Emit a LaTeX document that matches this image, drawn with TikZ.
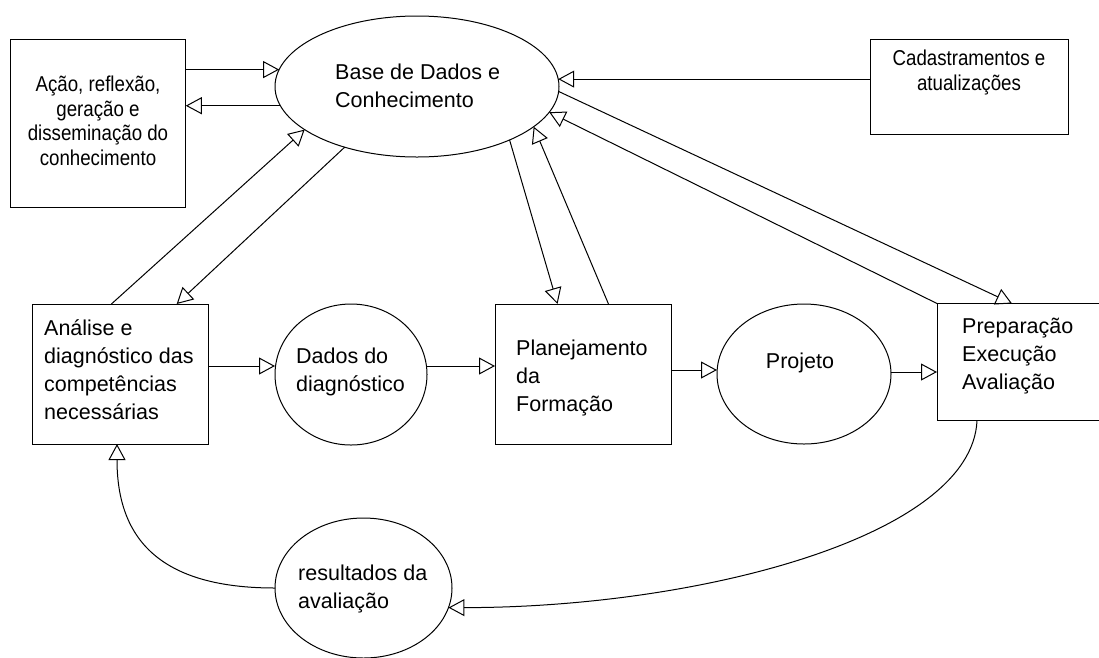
\documentclass[tikz,border=0pt]{standalone}
\usepackage{fontspec}
\setmainfont{Liberation Sans}
\newfontfamily\narrowsans[FakeStretch=0.87]{Liberation Sans}
\usetikzlibrary{shapes.geometric,arrows.meta}

\tikzset{
  box/.style={draw, rectangle, line width=1pt, inner sep=0pt, outer sep=0pt},
  oval/.style={draw, ellipse, line width=1pt, inner sep=0pt, outer sep=0pt},
  txt/.style={inner sep=0pt, align=left, font=\fontsize{21.5}{28}\selectfont},
  ntxt/.style={inner sep=0pt, align=center, font=\narrowsans\fontsize{21.5}{24.5}\selectfont},
  arr/.style={line width=1pt, -{Triangle[open, length=16pt, width=17pt, line width=1pt]}},
}

\begin{document}
\begin{tikzpicture}[x=1pt, y=-1pt]
\useasboundingbox (0,0) rectangle (1099,657);

% shapes
\node[box, minimum width=175.5pt, minimum height=168pt] (acao) at (98,123) {};
\node[oval, minimum width=284pt, minimum height=141pt] (base) at (417,86.5) {};
\node[box, minimum width=198pt, minimum height=95pt] (cad) at (969,86.5) {};
\node[box, minimum width=176pt, minimum height=140pt] (analise) at (120,374) {};
\node[oval, minimum width=152pt, minimum height=141pt] (dados) at (351,374.5) {};
\node[box, minimum width=176pt, minimum height=140pt] (plan) at (583,374) {};
\node[oval, minimum width=174pt, minimum height=140pt] (projeto) at (804,374) {};
\node[box, minimum width=173pt, minimum height=117pt] (prep) at (1023.5,362) {};
\node[oval, minimum width=177pt, minimum height=140pt] (res) at (363.5,588) {};

% texts
\node[ntxt] (acao-t) at (98,121) {Ação, reflexão,\\geração e\\disseminação do\\conhecimento};
\node[txt, anchor=west] (base-t) at (335,86) {Base de Dados e\\Conhecimento};
\node[ntxt, font=\narrowsans\fontsize{21.5}{25}\selectfont] (cad-t) at (969,72) {Cadastramentos e\\atualizações};
\node[txt, anchor=west] (analise-t) at (44,370) {Análise e\\diagnóstico das\\competências\\necessárias};
\node[txt, anchor=west] (dados-t) at (296,372) {Dados do\\diagnóstico};
\node[txt, anchor=west] (plan-t) at (516,378) {Planejamento\\da\\Formação};
\node[txt] (projeto-t) at (800,363) {Projeto};
\node[txt, anchor=west] (prep-t) at (962,356) {Preparação\\Execução\\Avaliação};
\node[txt, anchor=west] (res-t) at (298,589) {resultados da\\avaliação};

% connectors around the knowledge base
\draw[arr] (acao.east |- base.173) -- (base.173);
\draw[arr] (base.188) -- (base.188 -| acao.east);
\draw[arr] (cad.west |- base.3) -- (base.3);
\draw[arr] (analise.97) -- (base.201);
\draw[arr] (base.220) -- (analise.51);
\draw[arr] (base.330) -- (plan.110);
\draw[arr] (plan.70) -- (base.341);
\draw[arr] (prep.north west) -- (base.349);
\draw[arr] (base.358) -- ([xshift=-11.5pt]prep.north);

% main flow
\draw[arr] ([yshift=8pt]analise.east) -- ([yshift=8pt]analise.east -| dados.west);
\draw[arr] ([yshift=8.5pt]dados.east) -- ([yshift=8.5pt]dados.east -| plan.west);
\draw[arr] ([yshift=4pt]plan.east) -- ([yshift=4pt]plan.east -| projeto.west);
\draw[arr] ([yshift=2pt]projeto.east) -- ([yshift=2pt]projeto.east -| prep.west);

% feedback loop
\draw[arr] ([xshift=-46.5pt]prep.south) .. controls +(-5,116) and +(250,0) .. (res.347);
\draw[arr] (res.west) .. controls +(-114,0) and +(0,96) .. ([xshift=-3pt]analise.south);
\end{tikzpicture}
\end{document}
